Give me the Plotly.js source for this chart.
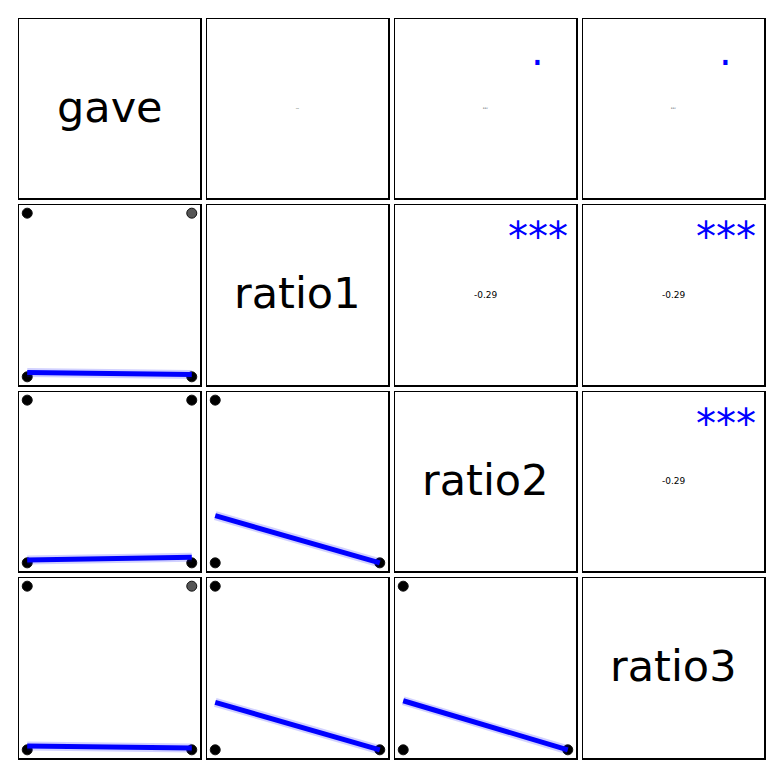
<!DOCTYPE html>
<html>
<head>
<meta charset="utf-8">
<script src="https://cdn.plot.ly/plotly-3.0.1.min.js"></script>
<style>html,body{margin:0;padding:0;background:#fff;}#chart{width:782px;height:777px;}</style>
</head>
<body>
<div id="chart"></div>
<script>
// ---- data ----
const varNames = ["gave", "ratio1", "ratio2", "ratio3"];
// distinct observation combinations (gave x treatment)
const gave   = [0, 0, 0, 0, 1, 1, 1, 1];
const ratio1 = [0, 1, 0, 0, 0, 1, 0, 0];
const ratio2 = [0, 0, 1, 0, 0, 0, 1, 0];
const ratio3 = [0, 0, 0, 1, 0, 0, 0, 1];
// lower panels (row var on y, col var on x): fitted line values at x=0 and x=1
const fitRows = [1, 2, 3, 2, 3, 3];
const fitCols = [0, 0, 0, 1, 1, 2];
const fitY0 = [0.026, 0.017, 0.023, 0.29, 0.29, 0.30];
const fitY1 = [0.014, 0.035, 0.011, 0.0, 0.0, 0.0];
const fitX = [0, 1];
// upper panels: correlation labels and significance stars
const corrRows = [0, 0, 0, 1, 1, 2];
const corrCols = [1, 2, 3, 2, 3, 3];
const corrText = ["0.04", "0.07", "0.07", "-0.29", "-0.29", "-0.29"];
const corrSize = [1.3, 2.2, 2.2, 9, 9, 9];
const corrStars = ["", ".", ".", "***", "***", "***"];

// ---- layout geometry ----
const W = 782, H = 777;
const colPx = [[19, 200], [207, 388], [395, 576], [583, 764]];
const rowPx = [[19, 198], [205, 385], [392, 571], [578, 758]];
const cols = [gave, ratio1, ratio2, ratio3];

const layout = {
  width: W, height: H,
  margin: {l: 0, r: 0, t: 0, b: 0},
  paper_bgcolor: "#ffffff", plot_bgcolor: "#ffffff",
  showlegend: false,
  font: {family: "DejaVu Sans", color: "#000"},
  annotations: []
};
const traces = [];

function axName(r, c) { return r * 4 + c + 1; }

for (let r = 0; r < 4; r++) {
  for (let c = 0; c < 4; c++) {
    const k = axName(r, c);
    const common = {
      range: [-0.05, 1.05], showgrid: false, zeroline: false,
      showticklabels: false, ticks: "", showline: true, mirror: true,
      linecolor: "#000", linewidth: 1.5, fixedrange: true
    };
    layout["xaxis" + k] = Object.assign({}, common, {
      domain: [colPx[c][0] / W, colPx[c][1] / W], anchor: "y" + k
    });
    layout["yaxis" + k] = Object.assign({}, common, {
      domain: [(H - rowPx[r][1]) / H, (H - rowPx[r][0]) / H], anchor: "x" + k
    });
    if (r <= c) {
      traces.push({x: [], y: [], type: "scatter", mode: "markers",
        xaxis: "x" + k, yaxis: "y" + k, hoverinfo: "skip"});
    }
  }
}

// diagonal labels
for (let i = 0; i < 4; i++) {
  const k = axName(i, i);
  layout.annotations.push({
    text: varNames[i], xref: "x" + k + " domain", yref: "y" + k + " domain",
    x: 0.5, y: 0.51, xanchor: "center", yanchor: "middle", showarrow: false,
    font: {size: 43, color: "#000", family: "DejaVu Sans"}
  });
}

// lower scatter panels + fit lines
for (let j = 0; j < fitRows.length; j++) {
  const r = fitRows[j], c = fitCols[j];
  const k = axName(r, c);
  const xs = cols[c], ys = cols[r];
  const seen = {};
  const px = [], py = [], pc = [];
  for (let i = 0; i < xs.length; i++) {
    const key = xs[i] + "_" + ys[i];
    if (seen[key]) continue;
    seen[key] = true;
    px.push(xs[i]); py.push(ys[i]);
    const light = (c === 0 && (r === 1 || r === 3) && xs[i] === 1 && ys[i] === 1);
    pc.push(light ? "#555555" : "#000000");
  }
  traces.push({
    x: px, y: py, type: "scatter", mode: "markers",
    xaxis: "x" + k, yaxis: "y" + k, hoverinfo: "skip",
    marker: {size: 10, color: pc, line: {color: "#111", width: 1}}
  });
  const fy = [fitY0[j], fitY1[j]];
  traces.push({
    x: fitX, y: fy, type: "scatter", mode: "lines",
    xaxis: "x" + k, yaxis: "y" + k, hoverinfo: "skip",
    line: {color: "rgba(0,0,255,0.18)", width: 9}
  });
  traces.push({
    x: fitX, y: fy, type: "scatter", mode: "lines",
    xaxis: "x" + k, yaxis: "y" + k, hoverinfo: "skip",
    line: {color: "#0000ff", width: 5}
  });
}

// upper correlation panels
for (let j = 0; j < corrRows.length; j++) {
  const k = axName(corrRows[j], corrCols[j]);
  layout.annotations.push({
    text: corrText[j], xref: "x" + k + " domain", yref: "y" + k + " domain",
    x: 0.5, y: 0.5, xanchor: "center", yanchor: "middle", showarrow: false,
    font: {size: corrSize[j], color: "#000", family: "DejaVu Sans"}
  });
  if (corrStars[j]) {
    layout.annotations.push({
      text: corrStars[j], xref: "x" + k + " domain", yref: "y" + k + " domain",
      x: 0.79, y: 0.82, xanchor: "center", yanchor: "middle", showarrow: false,
      font: {size: 40, color: "#0000ff", family: "DejaVu Sans"}
    });
  }
}

Plotly.newPlot("chart", traces, layout, {displayModeBar: false, staticPlot: true});
</script>
</body>
</html>
